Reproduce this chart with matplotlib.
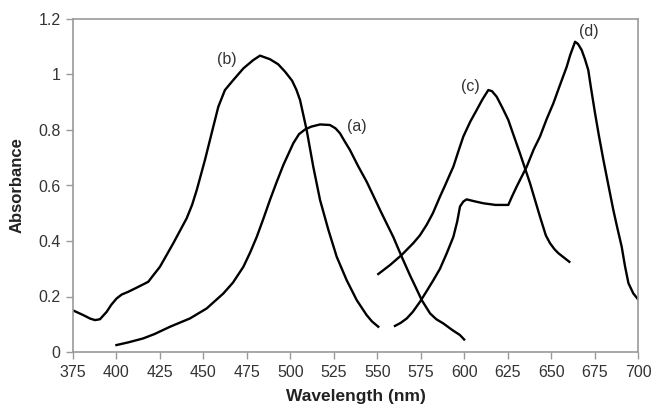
import numpy as np
import matplotlib
matplotlib.use("Agg")
import matplotlib.pyplot as plt

plt.rcParams['font.family'] = ['Liberation Sans', 'DejaVu Sans']

# curve (a)
wl_a = [400, 407, 415.4, 422, 430.8, 442.3, 451.9, 461.5, 467, 473, 477, 480.7, 484.5,
        488.3, 492, 496, 501.7, 505, 508.5, 512, 517.1, 522.8, 526, 528.6, 531, 534.3,
        539, 543.9, 548, 551.6, 555.5, 559.2, 564.1, 568.8, 572, 575.6, 580.4, 584, 588,
        593, 597.6, 600]
abs_a = [0.025, 0.035, 0.049, 0.065, 0.091, 0.121, 0.157, 0.211, 0.25, 0.307, 0.36, 0.415,
         0.48, 0.548, 0.61, 0.674, 0.752, 0.785, 0.802, 0.812, 0.82, 0.818, 0.806, 0.788,
         0.762, 0.728, 0.67, 0.614, 0.56, 0.512, 0.462, 0.415, 0.343, 0.277, 0.235, 0.187,
         0.139, 0.118, 0.103, 0.08, 0.061, 0.045]

# curve (b)
wl_b = [375, 380.9, 385, 387.7, 390.5, 394.4, 397, 400.1, 403, 406.8, 412, 418.3, 421,
        425, 432.7, 440.4, 443.5, 446.2, 450.9, 455.7, 458.6, 462.4, 467.2, 473, 478.7,
        482.6, 488.3, 493, 497, 501, 503.5, 505.6, 509.4, 513.2, 517.1, 521.9, 526.7,
        532.4, 538.2, 543.9, 547, 550.6]
abs_b = [0.15, 0.133, 0.12, 0.115, 0.118, 0.145, 0.17, 0.193, 0.207, 0.217, 0.233, 0.253,
         0.275, 0.307, 0.392, 0.482, 0.53, 0.584, 0.692, 0.812, 0.884, 0.944, 0.98, 1.022,
         1.052, 1.068, 1.055, 1.037, 1.01, 0.978, 0.945, 0.908, 0.80, 0.668, 0.548, 0.44,
         0.343, 0.259, 0.187, 0.133, 0.11, 0.091]

# curve (c)
wl_c = [550.6, 557.3, 564.1, 570.7, 574.5, 578.4, 582, 586.1, 589, 591.8, 593.8, 596.5,
        599.5, 603.5, 607.2, 610.5, 613.9, 616, 618.7, 622, 625.4, 628.5, 632.1, 637.9,
        643.6, 647, 649.4, 652, 654.2, 660.5]
abs_c = [0.281, 0.313, 0.35, 0.392, 0.42, 0.458, 0.5, 0.56, 0.6, 0.64, 0.668, 0.72, 0.776,
         0.83, 0.872, 0.91, 0.944, 0.94, 0.92, 0.88, 0.836, 0.78, 0.716, 0.608, 0.488,
         0.42, 0.392, 0.37, 0.356, 0.325]

# curve (d)
wl_d = [560.2, 563.5, 567, 570.5, 574.6, 578.5, 582.3, 586.1, 590, 593.8, 596, 597.6,
        599.5, 601.4, 606, 611, 618, 625.4, 627.5, 630.2, 636, 640, 643.6, 647.5, 651.3,
        655, 659, 661, 663.8, 665.5, 667.6, 669.5, 671.4, 673, 675.3, 677.5, 680.1, 683,
        685.8, 688, 690.6, 692.5, 694.5, 697.3, 700]
abs_d = [0.094, 0.105, 0.121, 0.145, 0.181, 0.22, 0.259, 0.3, 0.356, 0.415, 0.47, 0.524,
         0.542, 0.55, 0.543, 0.536, 0.53, 0.53, 0.56, 0.596, 0.668, 0.73, 0.776, 0.84,
         0.896, 0.96, 1.028, 1.07, 1.118, 1.11, 1.088, 1.055, 1.016, 0.95, 0.86, 0.78,
         0.692, 0.6, 0.512, 0.45, 0.38, 0.31, 0.248, 0.211, 0.19]

labels = ['(a)', '(b)', '(c)', '(d)']
label_pos = [(538.5, 0.812), (463.5, 1.055), (603.5, 0.956), (671.5, 1.154)]

fig = plt.figure(figsize=(6.54, 4.15), dpi=100)
ax = fig.add_axes([73/654, 1 - 352/415, 565/654, 333/415])

for wl, ab in [(wl_a, abs_a), (wl_b, abs_b), (wl_c, abs_c), (wl_d, abs_d)]:
    ax.plot(wl, ab, color='black', lw=1.7, solid_joinstyle='round')

for lab, (x, y) in zip(labels, label_pos):
    ax.text(x, y, lab, fontsize=11.5, ha='center', va='center', color='#333333')

ax.set_xlim(375, 700)
ax.set_ylim(0, 1.2)
ax.set_xticks(np.arange(375, 701, 25))
ax.set_yticks([0, 0.2, 0.4, 0.6, 0.8, 1, 1.2])
ax.set_yticklabels(['0', '0.2', '0.4', '0.6', '0.8', '1', '1.2'])

for s in ax.spines.values():
    s.set_color('#9a9a9a')
    s.set_linewidth(1.2)
ax.tick_params(direction='out', length=5, width=1, color='#9a9a9a',
               labelsize=11.5, labelcolor='#333333', pad=4)

ax.set_xlabel('Wavelength (nm)', fontsize=12.5, fontweight='bold', color='#222222', labelpad=7)
ax.set_ylabel('Absorbance', fontsize=12, fontweight='bold', color='#222222', labelpad=10)

fig.savefig('out.png', dpi=100)
